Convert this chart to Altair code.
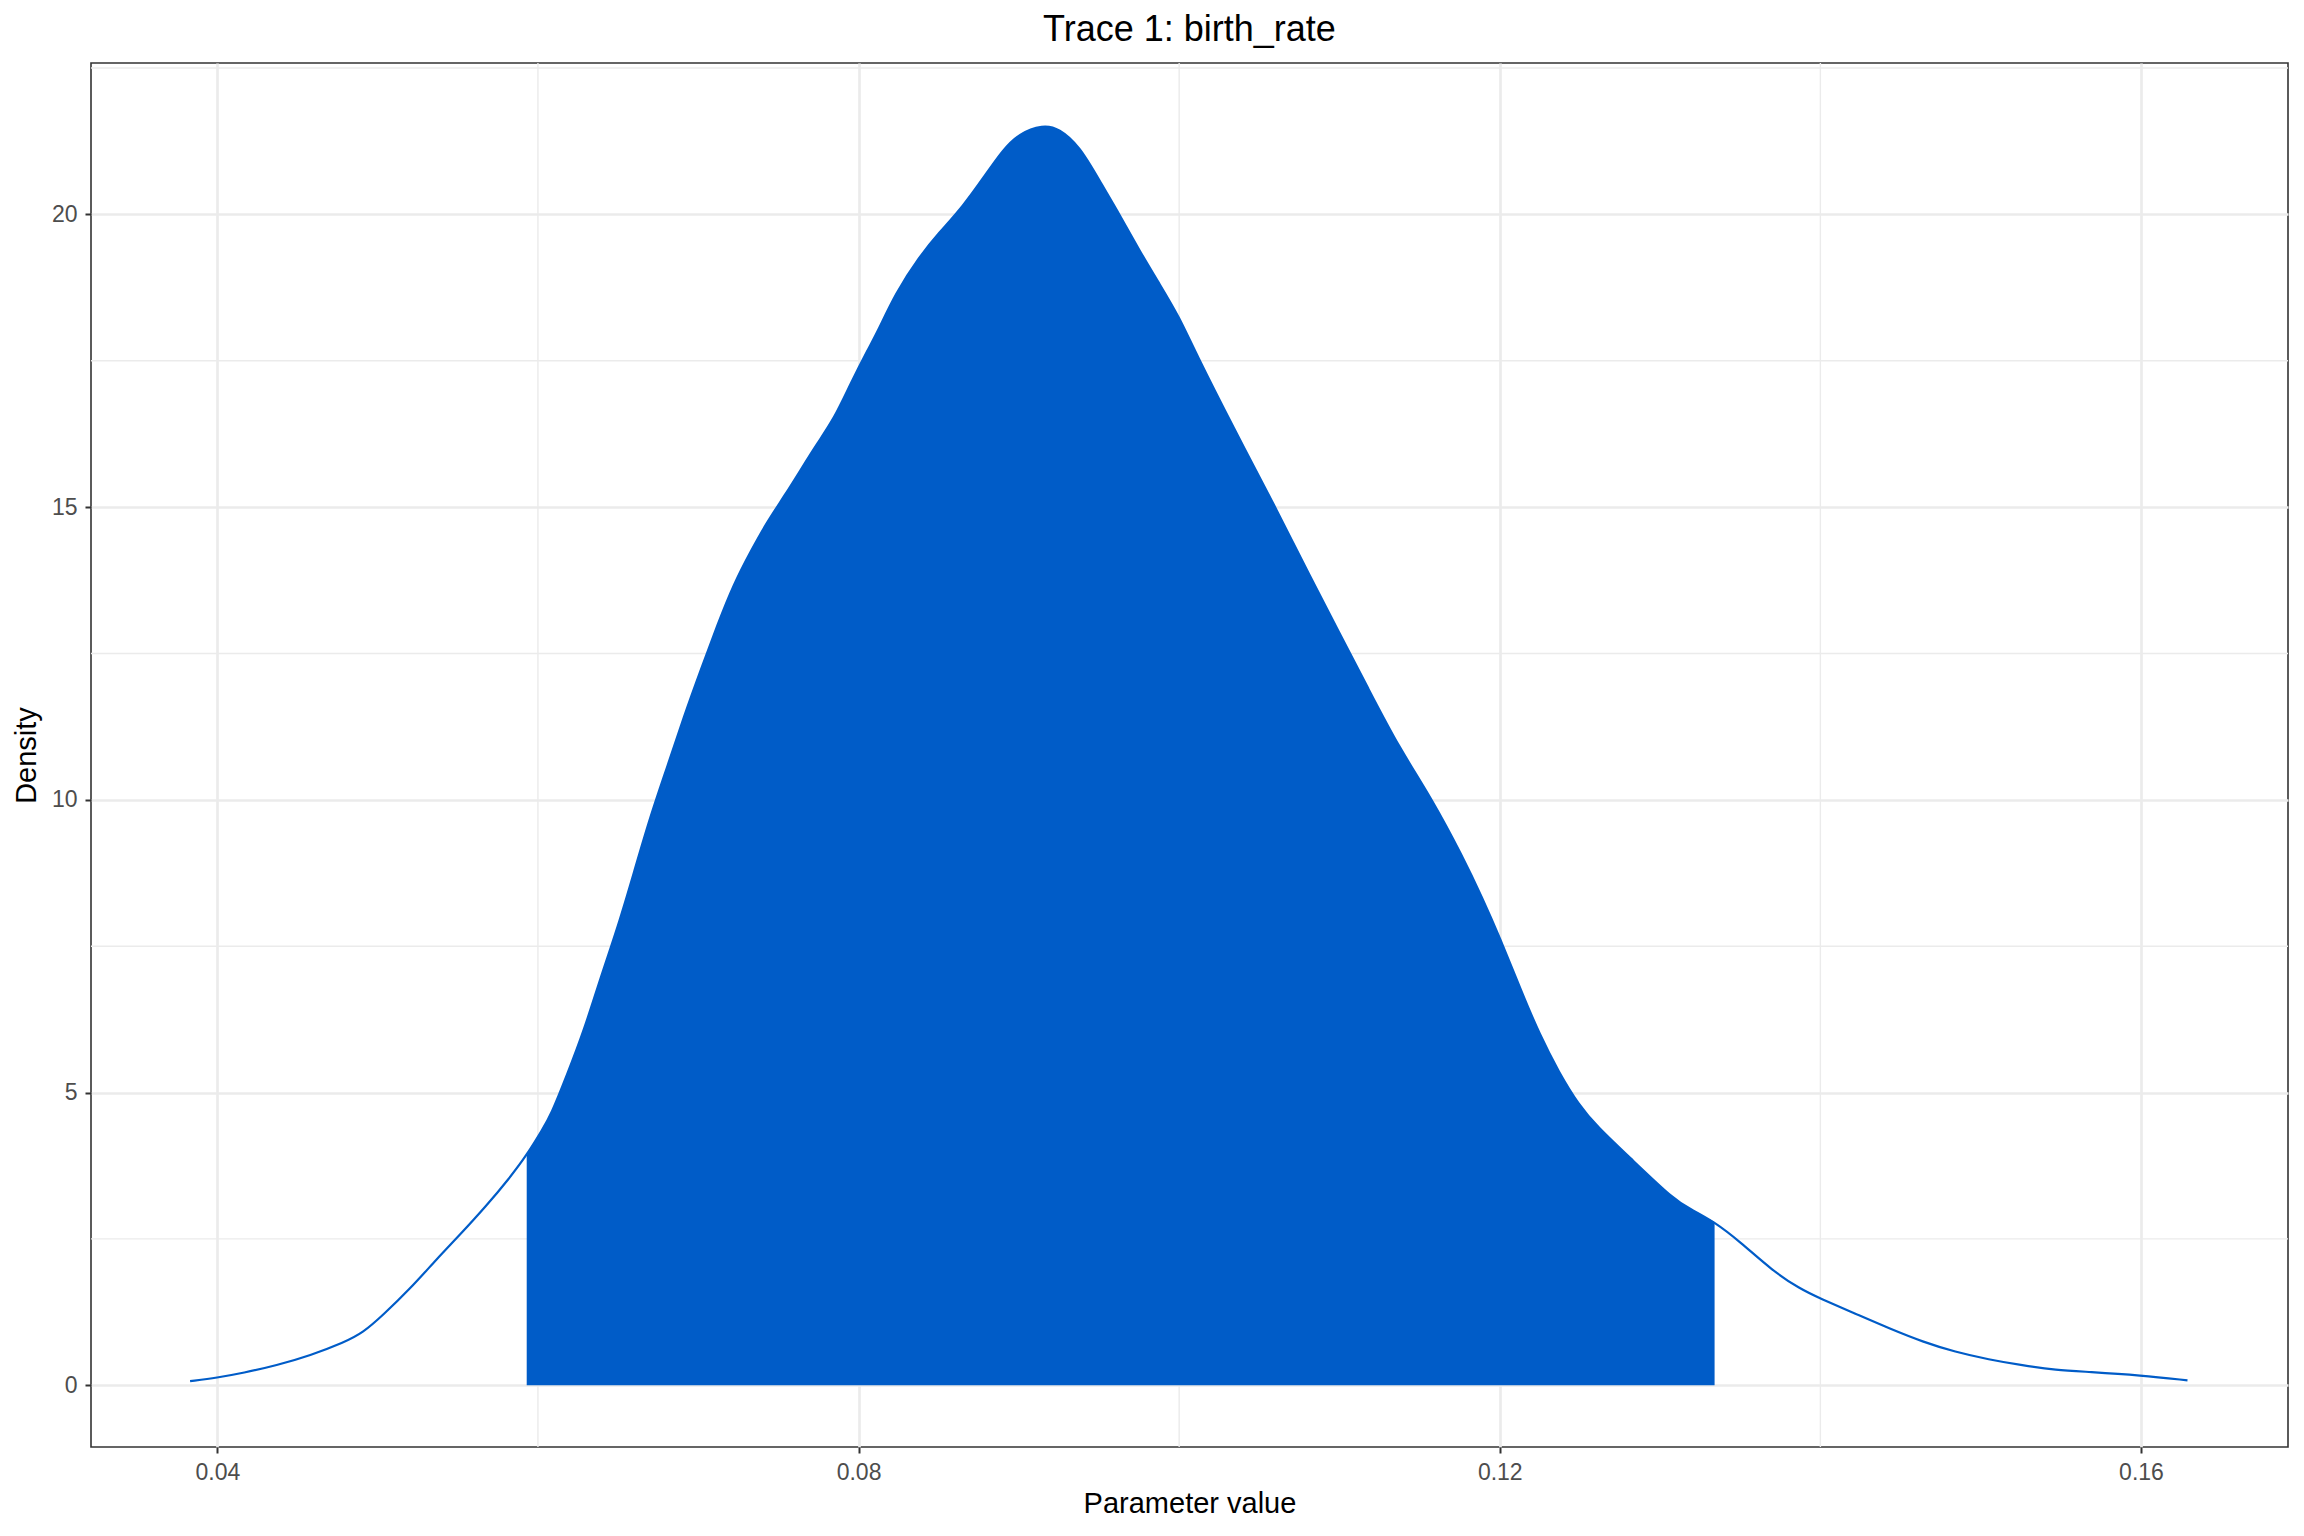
import altair as alt
import pandas as pd

# Density curve
param_value = [0.0383, 0.0400, 0.0416, 0.0437, 0.0458, 0.0479, 0.0491, 0.0503, 0.0520, 0.0537,
               0.0551, 0.0568, 0.0582, 0.0593, 0.0603, 0.0608, 0.0618, 0.0629, 0.0639, 0.0650,
               0.0660, 0.0670, 0.0681, 0.0691, 0.0702, 0.0712, 0.0722, 0.0733, 0.0743, 0.0754,
               0.0764, 0.0774, 0.0785, 0.0795, 0.0806, 0.0812, 0.0823, 0.0838, 0.0850, 0.0865,
               0.0879, 0.0890, 0.0900, 0.0915, 0.0925, 0.0938, 0.0950, 0.0963, 0.0975, 0.0988,
               0.1000, 0.1010, 0.1034, 0.1060, 0.1082, 0.1099, 0.1118, 0.1137, 0.1158, 0.1177,
               0.1189, 0.1200, 0.1213, 0.1225, 0.1237, 0.1249, 0.1261, 0.1280, 0.1309, 0.1319,
               0.1334, 0.1350, 0.1370, 0.1387, 0.1400, 0.1422, 0.1443, 0.1464, 0.1484, 0.1505,
               0.1526, 0.1547, 0.1567, 0.1600, 0.1629]
density = [0.07, 0.13, 0.21, 0.34, 0.51, 0.73, 0.90, 1.19, 1.64, 2.16,
           2.56, 3.07, 3.53, 3.93, 4.38, 4.61, 5.29, 6.08, 6.96, 7.84,
           8.77, 9.71, 10.59, 11.42, 12.25, 12.99, 13.68, 14.26, 14.75, 15.20,
           15.64, 16.08, 16.52, 17.11, 17.70, 18.00, 18.65, 19.28, 19.68, 20.13,
           20.67, 21.10, 21.38, 21.53, 21.47, 21.16, 20.59, 19.99, 19.39, 18.80,
           18.25, 17.65, 16.35, 15.00, 13.80, 12.90, 11.90, 10.90, 10.00, 9.02,
           8.33, 7.65, 6.76, 5.98, 5.34, 4.80, 4.41, 3.92, 3.16, 3.01,
           2.79, 2.45, 1.96, 1.65, 1.48, 1.22, 0.97, 0.74, 0.57, 0.44,
           0.34, 0.26, 0.23, 0.17, 0.085]

interval_low = 0.0593
interval_high = 0.1334

x_major = [0.04, 0.08, 0.12, 0.16]
x_minor = [0.06, 0.10, 0.14]
y_major = [0, 5, 10, 15, 20]
y_minor = [2.5, 7.5, 12.5, 17.5, 22.5]

x_domain = [0.03212, 0.16917]
y_domain = [-1.054, 22.585]

BLUE = "#005CC8"
GRID = "#EBEBEB"
FONT = "Liberation Sans"

df = pd.DataFrame({"x": param_value, "y": density})
df_xminor = pd.DataFrame({"v": x_minor})
df_yminor = pd.DataFrame({"v": y_minor})

xscale = alt.Scale(domain=x_domain, nice=False, zero=False)
yscale = alt.Scale(domain=y_domain, nice=False, zero=False)

x_axis = alt.Axis(values=x_major, format=".2f", title="Parameter value",
                  grid=True, gridColor=GRID, gridWidth=2.7,
                  domain=False, ticks=True, tickSize=6, tickWidth=2, tickColor="#333333",
                  labelFont=FONT, labelFontSize=23, labelColor="#4D4D4D", labelPadding=8,
                  titleFont=FONT, titleFontSize=29, titleFontWeight="normal", titleColor="black",
                  titlePadding=5)
y_axis = alt.Axis(values=y_major, format="d", title="Density",
                  grid=True, gridColor=GRID, gridWidth=2.7,
                  domain=False, ticks=True, tickSize=6, tickWidth=2, tickColor="#333333",
                  labelFont=FONT, labelFontSize=23, labelColor="#4D4D4D", labelPadding=8,
                  titleFont=FONT, titleFontSize=29, titleFontWeight="normal", titleColor="black",
                  titlePadding=10)

xminor = alt.Chart(df_xminor).mark_rule(color=GRID, strokeWidth=1.4).encode(
    x=alt.X("v:Q", scale=xscale, axis=x_axis))
yminor = alt.Chart(df_yminor).mark_rule(color=GRID, strokeWidth=1.4).encode(
    y=alt.Y("v:Q", scale=yscale, axis=y_axis))

area = alt.Chart(df).transform_filter(
    (alt.datum.x >= interval_low) & (alt.datum.x <= interval_high)
).mark_area(color=BLUE, opacity=1, interpolate="basis").encode(
    x=alt.X("x:Q", scale=xscale, axis=x_axis),
    y=alt.Y("y:Q", scale=yscale, axis=y_axis),
    y2=alt.datum(0),
)

line = alt.Chart(df).mark_line(color=BLUE, strokeWidth=2.2, interpolate="basis").encode(
    x=alt.X("x:Q", scale=xscale, axis=x_axis),
    y=alt.Y("y:Q", scale=yscale, axis=y_axis),
)

chart = alt.layer(xminor, yminor, area, line).properties(
    width=2197, height=1384,
    title=alt.TitleParams("Trace 1: birth_rate", font=FONT, fontSize=36, fontWeight="normal",
                          color="black", anchor="middle", frame="group", offset=13),
    autosize=alt.AutoSizeParams(type="none"),
    padding={"left": 83, "top": 55, "right": 8, "bottom": 81},
    background="white",
).configure_view(stroke="#333333", strokeWidth=1.6)

chart.save("out.html", embed_options={"renderer": "svg", "actions": False})
